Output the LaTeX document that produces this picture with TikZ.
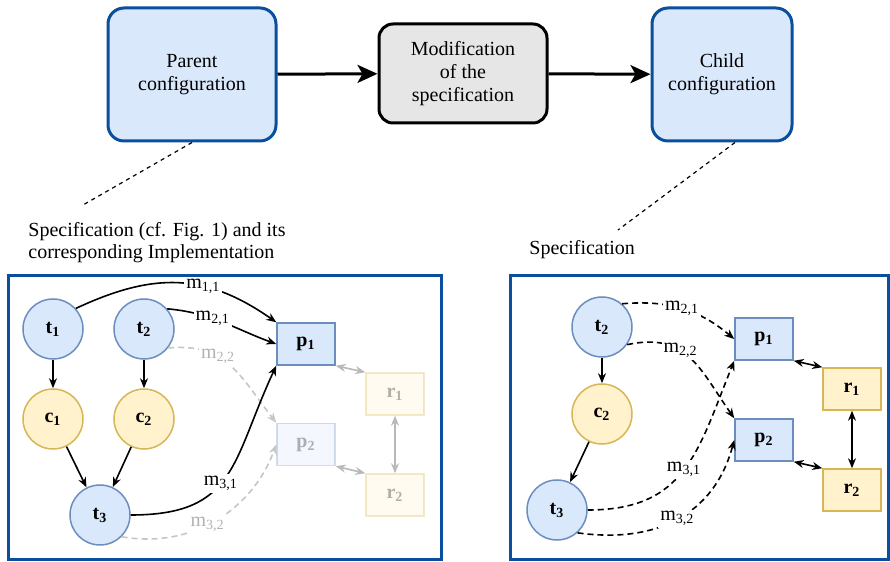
\documentclass[tikz,border=0pt]{standalone}
\usepackage{fontspec}
\setmainfont{Liberation Serif}
\usetikzlibrary{arrows.meta, calc}
\definecolor{cfgblue}{HTML}{0A4F9E}
\definecolor{bluefill}{HTML}{DAE8FC}
\definecolor{bluedraw}{HTML}{6C8EBF}
\definecolor{yellowfill}{HTML}{FFF2CC}
\definecolor{yellowdraw}{HTML}{D6B656}
\definecolor{modfill}{HTML}{E6E6E6}

\begin{document}
\begin{tikzpicture}[x=0.5pt, y=0.5pt,
  cfg/.style={draw=cfgblue, fill=bluefill, line width=1.5pt, rounded corners=8pt, align=center,
    minimum height=66.5pt, font=\fontsize{10}{11.5}\selectfont},
  modbox/.style={draw=black, fill=modfill, line width=1.5pt, rounded corners=7pt, align=center,
    minimum width=84pt, minimum height=49.5pt, font=\fontsize{10}{11.7}\selectfont},
  task/.style={circle, draw=bluedraw, fill=bluefill, line width=0.75pt, minimum size=30pt,
    inner sep=0pt, font=\bfseries},
  chan/.style={task, draw=yellowdraw, fill=yellowfill},
  proc/.style={rectangle, draw=bluedraw, fill=bluefill, line width=0.75pt, minimum width=29pt,
    minimum height=21pt, inner sep=0pt, font=\bfseries},
  res/.style={proc, draw=yellowdraw, fill=yellowfill},
  faded/.style={opacity=0.3},
  bigflow/.style={-{Stealth[length=10pt, width=9pt, inset=2.5pt]}, line width=1.5pt},
  flow/.style={-{Stealth[length=5pt, width=4pt]}, line width=0.8pt},
  map/.style={flow, dash pattern=on 3pt off 2pt},
  ghost/.style={flow, dash pattern=on 3pt off 2pt, gray!45},
  link/.style={{Stealth[length=5pt, width=4pt]}-{Stealth[length=5pt, width=4pt]}, line width=0.8pt},
  ghostlink/.style={link, gray!55},
  lbl/.style={fill=white, inner sep=1pt},
  ghostlbl/.style={lbl, text=gray!60},
  note/.style={black, line width=0.6pt, dash pattern=on 2pt off 2pt},
  panel/.style={draw=cfgblue, line width=1.5pt}]
\useasboundingbox (0,0) rectangle (890,562);

\node [cfg, minimum width=84pt] (parent) at (192,487.5) {Parent\\configuration};
\node [modbox] (mod) at (463,488.5) {Modification\\of the\\specification};
\node [cfg, minimum width=70pt] (child) at (722,487.5) {Child\\configuration};
\draw [bigflow] (parent) -- (mod);
\draw [bigflow] (mod) -- (child);

\coordinate (pc) at (83,357);
\coordinate (cc) at (618,332);
\draw [note] (parent.south) -- (pc);
\draw [note] ([xshift=6.5pt]child.south) -- (cc);
\node [anchor=west, align=left, inner sep=0pt, font=\fontsize{10}{11}\selectfont] (spec) at (28,319)
  {Specification (cf. Fig. 1) and its\\corresponding Implementation};
\node [anchor=west, inner sep=0pt] (childspec) at (529,312) {Specification};

\draw [panel] (8,2) rectangle (441,286);
\draw [panel] (510,2) rectangle (888,286);

\node [task] (t1) at (53,233) {t\textsubscript{1}};
\node [task] (t2) at (144,233) {t\textsubscript{2}};
\node [chan] (c1) at (53,143) {c\textsubscript{1}};
\node [chan] (c2) at (144,143) {c\textsubscript{2}};
\node [task] (t3) at (100,47) {t\textsubscript{3}};
\node [proc] (p1) at (306,218) {p\textsubscript{1}};
\node [proc, faded] (p2) at (306,117.5) {p\textsubscript{2}};
\node [res, faded] (r1) at (395,168) {r\textsubscript{1}};
\node [res, faded] (r2) at (395,67) {r\textsubscript{2}};
\draw [flow] (t1) -- (c1);
\draw [flow] (t2) -- (c2);
\draw [flow] (c1) -- (t3);
\draw [flow] (c2) -- (t3);
\draw [ghost] (t2.-38) to[out=5, in=128, looseness=1.15] node[ghostlbl, pos=0.37] (lm22) {m\textsubscript{2,2}} (p2.north west);
\draw [ghost] (t3.-45) to[out=-10, in=-110] node[ghostlbl, pos=0.45] (lm32) {m\textsubscript{3,2}} (p2.west);
\draw [flow] (t1.42) to[out=25, in=145, looseness=1.1] node[lbl, pos=0.63] (lm11) {m\textsubscript{1,1}} (p1.north west);
\draw [flow] (t2.41) to[out=-5, in=160] node[lbl, pos=0.4] (lm21) {m\textsubscript{2,1}} (p1.west);
\draw [flow] (t3.east) to[out=0, in=-115, looseness=1.3] node[lbl, pos=0.45] (lm31) {m\textsubscript{3,1}} (p1.south west);
\draw [ghostlink] (p1.south east) -- (r1.north west);
\draw [ghostlink] (p2.south east) -- (r2.north west);
\draw [ghostlink] (r1) -- (r2);

\node [task] (rt2) at (602,235) {t\textsubscript{2}};
\node [chan] (rc2) at (602,148) {c\textsubscript{2}};
\node [task] (rt3) at (557,52) {t\textsubscript{3}};
\node [proc] (rp1) at (764,223) {p\textsubscript{1}};
\node [proc] (rp2) at (764,122) {p\textsubscript{2}};
\node [res] (rr1) at (852,173) {r\textsubscript{1}};
\node [res] (rr2) at (852,72) {r\textsubscript{2}};
\draw [flow] (rt2) -- (rc2);
\draw [flow] (rc2) -- (rt3);
\draw [map] (rt2.49) to[out=5, in=140] node[lbl, pos=0.5] (rm21) {m\textsubscript{2,1}} (rp1.west);
\draw [map] (rt2.-35) to[out=12, in=125, looseness=1.2] node[lbl, pos=0.4] (rm22) {m\textsubscript{2,2}} (rp2.north west);
\draw [map] (rt3.east) to[out=0, in=-112, looseness=1.2] node[lbl, pos=0.5] (rm31) {m\textsubscript{3,1}} (rp1.south west);
\draw [map] (rt3.-48) to[out=-8, in=-105, looseness=1.1] node[lbl, pos=0.5] (rm32) {m\textsubscript{3,2}} (rp2.west);
\draw [link] (rp1.south east) -- (rr1.north west);
\draw [link] (rp2.south east) -- (rr2.north west);
\draw [link] (rr1) -- (rr2);
\end{tikzpicture}
\end{document}
